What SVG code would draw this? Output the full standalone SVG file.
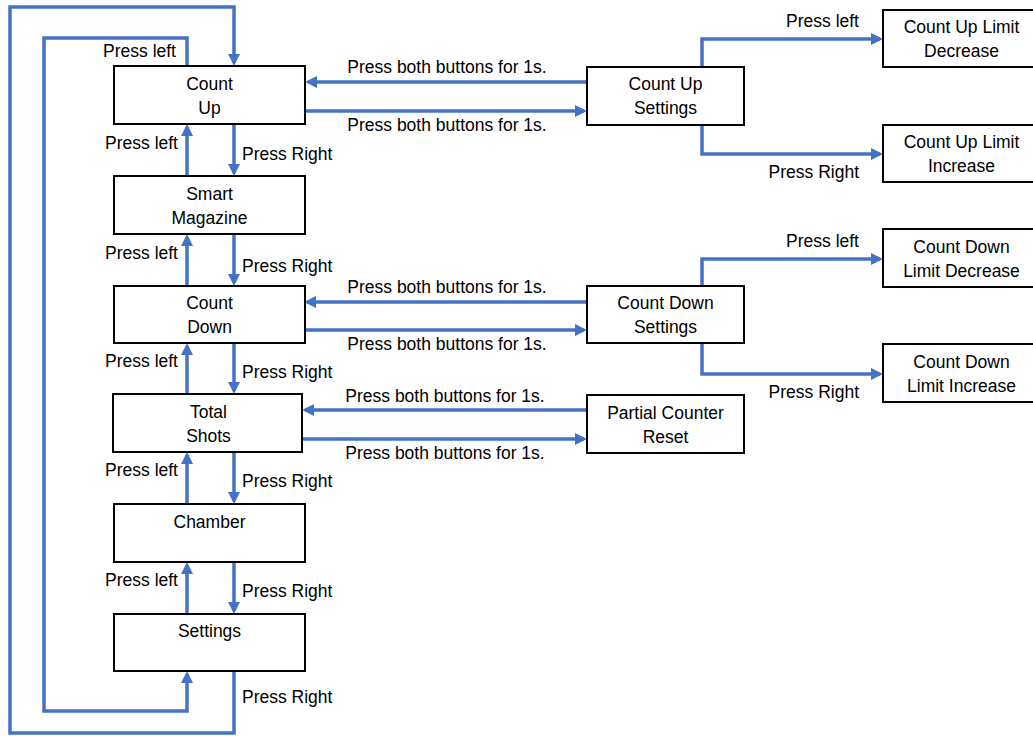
<svg xmlns="http://www.w3.org/2000/svg" width="1033" height="736" viewBox="0 0 1033 736">
<style>
.box{fill:#fff;stroke:#000;stroke-width:2}
.t{font-family:"Liberation Sans",Arial,sans-serif;font-size:17.5px;fill:#000}
.c{text-anchor:middle}
.r{text-anchor:end}
.ln{fill:none;stroke:#4472C4;stroke-width:3.5;marker-end:url(#ah)}
</style>
<defs>
<marker id="ah" markerUnits="userSpaceOnUse" markerWidth="12" markerHeight="12" viewBox="0 0 12 12" refX="9" refY="6" orient="auto">
<path d="M0,0 L12,6 L0,12 z" fill="#4472C4"/>
</marker>
</defs>
<rect width="1033" height="736" fill="#fff"/>
<g id="connectors">
<path class="ln" d="M234,671 V733 H10 V7 H234 V63"/>
<path class="ln" d="M187,66 V38 H44 V711 H187 V674"/>
<path class="ln" d="M187,176 V127"/>
<path class="ln" d="M234,124 V173"/>
<path class="ln" d="M187,286 V237"/>
<path class="ln" d="M234,234 V283"/>
<path class="ln" d="M187,394 V346"/>
<path class="ln" d="M234,343 V391"/>
<path class="ln" d="M187,504 V455"/>
<path class="ln" d="M234,452 V501"/>
<path class="ln" d="M187,614 V565"/>
<path class="ln" d="M234,562 V611"/>
<path class="ln" d="M587,82 H308"/>
<path class="ln" d="M305,111 H584"/>
<path class="ln" d="M587,302 H307"/>
<path class="ln" d="M304,330 H584"/>
<path class="ln" d="M587,410 H305"/>
<path class="ln" d="M302,439 H584"/>
<path class="ln" d="M702,67 V39 H880"/>
<path class="ln" d="M702,125 V154 H880"/>
<path class="ln" d="M702,286 V259 H880"/>
<path class="ln" d="M702,343 V374 H880"/>
<g class="t">
<text class="r" x="176" y="57">Press left</text>
<text class="r" x="178" y="149">Press left</text>
<text class="r" x="178" y="259">Press left</text>
<text class="r" x="178" y="367">Press left</text>
<text class="r" x="178" y="476">Press left</text>
<text class="r" x="178" y="586">Press left</text>
<text x="242" y="160">Press Right</text>
<text x="242" y="272">Press Right</text>
<text x="242" y="378">Press Right</text>
<text x="242" y="487">Press Right</text>
<text x="242" y="597">Press Right</text>
<text x="242" y="703">Press Right</text>
<text class="c" x="447" y="73">Press both buttons for 1s.</text>
<text class="c" x="447" y="131">Press both buttons for 1s.</text>
<text class="c" x="447" y="293">Press both buttons for 1s.</text>
<text class="c" x="447" y="350">Press both buttons for 1s.</text>
<text class="c" x="445" y="402">Press both buttons for 1s.</text>
<text class="c" x="445" y="459">Press both buttons for 1s.</text>
<text class="r" x="859" y="27">Press left</text>
<text class="r" x="859" y="178">Press Right</text>
<text class="r" x="859" y="247">Press left</text>
<text class="r" x="859" y="398">Press Right</text>
</g>
</g>
<g id="count-up"><rect class="box" x="114" y="66" width="191" height="58"/><text class="t c" x="209.5" y="90">Count</text><text class="t c" x="209.5" y="114">Up</text></g>
<g id="smart-magazine"><rect class="box" x="114" y="176" width="191" height="58"/><text class="t c" x="209.5" y="200">Smart</text><text class="t c" x="209.5" y="224">Magazine</text></g>
<g id="count-down"><rect class="box" x="114" y="286" width="191" height="57"/><text class="t c" x="209.5" y="309">Count</text><text class="t c" x="209.5" y="333">Down</text></g>
<g id="total-shots"><rect class="box" x="113" y="394" width="189" height="58"/><text class="t c" x="208.5" y="418">Total</text><text class="t c" x="208.5" y="442">Shots</text></g>
<g id="chamber"><rect class="box" x="114" y="504" width="191" height="58"/><text class="t c" x="209.5" y="528">Chamber</text></g>
<g id="settings"><rect class="box" x="114" y="614" width="191" height="57"/><text class="t c" x="209.5" y="637">Settings</text></g>
<g id="count-up-settings"><rect class="box" x="587" y="67" width="157" height="58"/><text class="t c" x="665.5" y="90">Count Up</text><text class="t c" x="665.5" y="114">Settings</text></g>
<g id="count-down-settings"><rect class="box" x="587" y="286" width="157" height="57"/><text class="t c" x="665.5" y="309">Count Down</text><text class="t c" x="665.5" y="333">Settings</text></g>
<g id="partial-counter-reset"><rect class="box" x="587" y="395" width="157" height="58"/><text class="t c" x="665.5" y="419">Partial Counter</text><text class="t c" x="665.5" y="443">Reset</text></g>
<g id="count-up-limit-decrease"><rect class="box" x="883" y="10" width="157" height="57"/><text class="t c" x="961.5" y="33">Count Up Limit</text><text class="t c" x="961.5" y="57">Decrease</text></g>
<g id="count-up-limit-increase"><rect class="box" x="883" y="125" width="157" height="57"/><text class="t c" x="961.5" y="148">Count Up Limit</text><text class="t c" x="961.5" y="172">Increase</text></g>
<g id="count-down-limit-decrease"><rect class="box" x="883" y="229" width="157" height="58"/><text class="t c" x="961.5" y="253">Count Down</text><text class="t c" x="961.5" y="277">Limit Decrease</text></g>
<g id="count-down-limit-increase"><rect class="box" x="883" y="344" width="157" height="58"/><text class="t c" x="961.5" y="368">Count Down</text><text class="t c" x="961.5" y="392">Limit Increase</text></g>
</svg>
